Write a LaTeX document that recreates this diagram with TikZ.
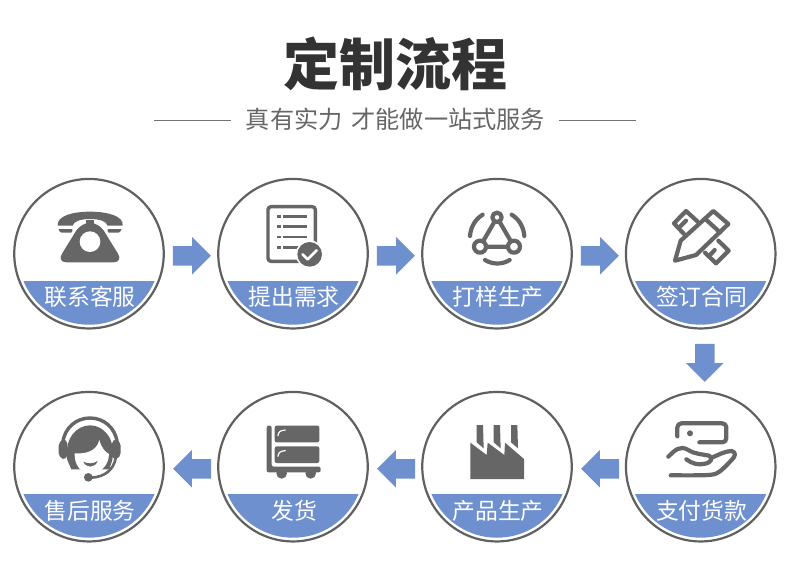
\documentclass[tikz,border=0pt]{standalone}
\usepackage{fontspec}
\usetikzlibrary{shapes.arrows}
\newfontfamily\cjk{Noto Sans CJK SC}
\definecolor{icon}{HTML}{666666}
\definecolor{ring}{HTML}{606060}
\definecolor{blue1}{HTML}{6E90CF}
\definecolor{head}{HTML}{333333}
\tikzset{
  stepring/.style={circle,draw=ring,line width=2.2pt,minimum size=149.5pt,inner sep=0pt,outer sep=0pt},
  steplabel/.style={text=white,font=\cjk\fontsize{22.8}{26}\selectfont,inner sep=0pt},
  flow/.style={single arrow,fill=blue1,draw=none,inner xsep=0pt,inner ysep=9.5pt,outer sep=0pt,minimum height=38pt,minimum width=37pt,single arrow head extend=9pt,single arrow tip angle=90,single arrow head indent=0pt},
  ln/.style={draw=icon,line width=4.2pt,line cap=round,line join=round},
  thinrule/.style={draw=black!55,line width=0.8pt}
}
\newcommand{\stepcirc}[5]{%
  \begin{scope}[shift={(#2,#3)}]
    \begin{scope}
      \clip (0,0) circle (71);
      \fill[blue1] (-80,27.3) rectangle (80,80);
    \end{scope}
    \node[stepring] (#1) at (0,0) {};
    \node[steplabel] (#1t) at (1,#5) {#4};
  \end{scope}}
\begin{document}
\begin{tikzpicture}[x=1pt,y=-1pt]
\useasboundingbox (0,0) rectangle (790,574);
\fill[white] (0,0) rectangle (790,574);
% title
\node[text=head,font=\cjk\bfseries\fontsize{56}{64}\selectfont,inner sep=0pt] (title) at (395,64) {定制流程};
\node[text=icon,font=\cjk\fontsize{24.2}{28}\selectfont,inner sep=0pt] (sub) at (395.5,119.5) {真有实力\hspace{9pt}才能做一站式服务};
\coordinate (la) at (154,120); \coordinate (lb) at (231,120);
\coordinate (ra) at (559,120); \coordinate (rb) at (636,120);
\draw[thinrule] (la) -- (lb);
\draw[thinrule] (ra) -- (rb);
% steps
\stepcirc{s1}{89}{253.7}{联系客服}{43}
\stepcirc{s2}{293}{253.7}{提出需求}{43}
\stepcirc{s3}{497}{253.7}{打样生产}{43}
\stepcirc{s4}{700.7}{253.7}{签订合同}{43}
\stepcirc{s5}{700.7}{466.7}{支付货款}{44.5}
\stepcirc{s6}{497}{466.7}{产品生产}{44.5}
\stepcirc{s7}{293}{466.7}{发货}{44.5}
\stepcirc{s8}{89}{466.7}{售后服务}{44.5}
% arrows
\node[flow] (a1) at (187,255.8) {};
\node[flow] (a2) at (391,255.8) {};
\node[flow] (a3) at (595,255.8) {};
\node[flow,rotate=-90] (a4) at (704.8,358) {};
\node[flow,rotate=180] (a5) at (605,468.8) {};
\node[flow,rotate=180] (a6) at (401,468.8) {};
\node[flow,rotate=180] (a7) at (197,468.8) {};
% phone
\begin{scope}[shift={(50,205)},scale=1/3]
  \fill[icon] (23,62) .. controls (20,32) and (70,20) .. (120,20) .. controls (170,20) and (222,32) .. (218,62) -- (172,62) .. controls (172,50) and (150,42) .. (120,42) .. controls (90,42) and (70,50) .. (68,62) -- cycle;
  \fill[icon,rounded corners=1pt] (24,72) -- (68,72) -- (66,83) -- (32,83) -- cycle;
  \fill[icon,rounded corners=1pt] (172,72) -- (216,72) -- (208,83) -- (174,83) -- cycle;
  \fill[icon] (107,58) -- (107,44) -- (133,44) -- (133,58) -- cycle;
  \fill[icon,rounded corners=10pt] (94,52) -- (146,52) -- (220,172) -- (20,172) -- cycle;
  \fill[white] (120,110) circle (31);
\end{scope}
% document
\begin{scope}[shift={(0,170)},scale=1/3]
  \draw[ln,line width=3.4pt,rounded corners=3pt] (804,110) rectangle (946,274);
  \foreach \y/\e in {140/920,170/920,201/920,232/900}{
    \fill[icon] (832,\y-4) rectangle (842,\y+4);
    \fill[icon] (849,\y-4) rectangle (\e,\y+4);
  }
  \fill[white] (929,253) circle (42);
  \fill[icon] (929,253) circle (37);
  \draw[white,line width=2.6pt,line cap=round,line join=round] (908,253) -- (923,268) -- (950,241);
\end{scope}
% network triangle
\begin{scope}[shift={(410,170)},scale=1/3]
  \draw[ln] (261,142) -- (210,230) -- (312,230) -- cycle;
  \draw[ln,fill=white] (261,142) circle (14);
  \draw[ln,fill=white] (210,230) circle (18);
  \draw[ln,fill=white] (312,230) circle (18);
  \draw[ln] (218,134) .. controls (195,148) and (182,172) .. (180,198);
  \draw[ln] (305,134) .. controls (328,148) and (341,172) .. (343,198);
  \draw[ln] (225,270) .. controls (248,284) and (276,284) .. (299,270);
\end{scope}
% pencil and ruler
\begin{scope}[shift={(660,200)},scale=1/3]
  \draw[ln] (112,64) -- (78,33) -- (42,70) -- (72,102);
  \draw[ln] (78,62) -- (62,78);
  \draw[ln] (175,122) -- (206,152) -- (168,190) -- (135,158);
  \draw[ln] (164,150) -- (150,165);
  \draw[ln] (160,33) -- (205,72) -- (108,165) -- (45,182) -- (62,122) -- cycle;
  \draw[ln] (136,57) -- (180,97);
\end{scope}
% hand and card
\begin{scope}[shift={(410,335)},scale=1/3]
  \draw[ln,rounded corners=4pt] (802,304) -- (802,265) -- (949,265) -- (949,322) -- (868,322);
  \fill[icon] (840,295) circle (9);
  \draw[ln] (775,365) .. controls (795,345) and (810,330) .. (835,345) .. controls (855,358) and (880,358) .. (897,362) .. controls (910,368) and (905,382) .. (885,386) .. controls (865,392) and (845,385) .. (829,373);
  \draw[ln] (905,368) .. controls (925,360) and (945,348) .. (965,348) .. controls (978,352) and (978,362) .. (965,375) .. controls (950,390) and (935,408) .. (920,415) .. controls (905,422) and (880,421) .. (782,421);
\end{scope}
% factory
\begin{scope}[shift={(410,335)},scale=1/3]
  \fill[icon] (200,270) -- (219,270) -- (221,340) -- (200,322) -- cycle;
  \fill[icon] (251,270) -- (270,270) -- (272,340) -- (251,322) -- cycle;
  \fill[icon] (303,270) -- (322,270) -- (324,340) -- (303,322) -- cycle;
  \fill[icon] (181,323) -- (230,360) -- (233,323) -- (283,360) -- (285,323) -- (342,372) -- (342,432) -- (181,432) -- cycle;
\end{scope}
% cart
\begin{scope}[shift={(0,385)},scale=1/3]
  \fill[icon,rounded corners=2pt] (800,122) -- (815,122) -- (815,245) -- (962,245) -- (962,262) -- (800,262) -- cycle;
  \fill[icon] (845,265) circle (16);
  \fill[icon] (932,265) circle (16);
  \fill[icon,rounded corners=2pt] (824,122) rectangle (958,172);
  \fill[icon,rounded corners=2pt] (824,184) rectangle (958,234);
  \draw[white,line width=1.2pt,line cap=round] (834,152) .. controls (835,140) and (842,136) .. (856,135);
  \draw[white,line width=1.2pt,line cap=round] (834,214) .. controls (835,202) and (842,198) .. (856,197);
\end{scope}
% headset
\begin{scope}[shift={(50,410)},scale=1/3]
  \draw[icon,line width=3.4pt] (38,100) .. controls (43,52) and (80,24) .. (120,24) .. controls (160,24) and (197,52) .. (202,100);
  \fill[icon] (52,150) .. controls (42,85) and (80,46) .. (120,46) .. controls (160,46) and (198,85) .. (187,150) -- (178,178) -- (64,178) -- cycle;
  \fill[white] (74,130) .. controls (105,132) and (140,125) .. (148,90) .. controls (155,115) and (165,125) .. (177,132) .. controls (177,165) and (150,192) .. (122,192) .. controls (95,192) and (72,165) .. (74,130) -- cycle;
  \fill[white] (60,179) rectangle (182,200);
  \fill[icon] (100,155) .. controls (112,162) and (130,162) .. (143,153) .. controls (135,175) and (108,175) .. (100,155) -- cycle;
  \fill[icon,rounded corners=5pt] (26,92) -- (52,86) -- (52,150) -- (26,144) -- cycle;
  \fill[icon,rounded corners=5pt] (212,92) -- (186,86) -- (186,150) -- (212,144) -- cycle;
  \draw[icon,line width=2.6pt] (197,145) .. controls (190,180) and (165,200) .. (125,203);
  \fill[icon] (115,202) circle (13);
\end{scope}
\end{tikzpicture}
\end{document}
